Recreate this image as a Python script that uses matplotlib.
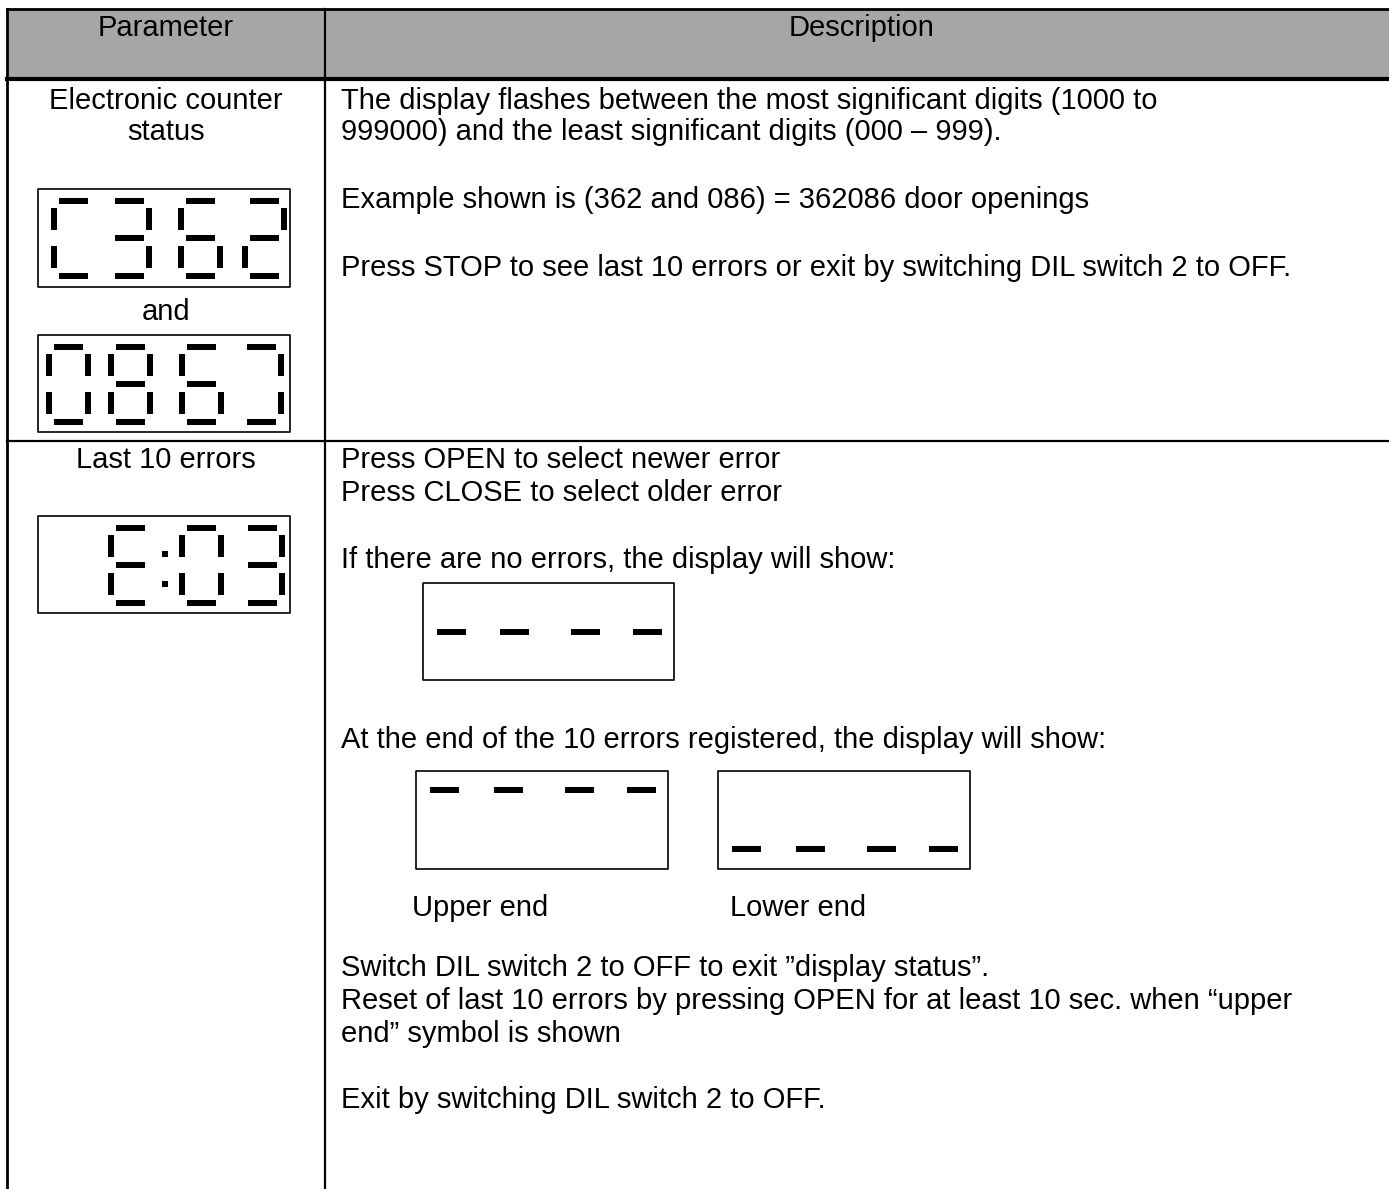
import matplotlib
matplotlib.use("Agg")
import matplotlib.pyplot as plt
from matplotlib.patches import Rectangle

plt.rcParams["font.family"] = ["Liberation Sans", "DejaVu Sans"]

W, H = 1389, 1189
FS = 21

# ---- content -------------------------------------------------------------
headers = ["Parameter", "Description"]
param_row1 = ["Electronic counter", "status"]
param_and = "and"
param_row2 = ["Last 10 errors"]

desc_row1 = [
    "The display flashes between the most significant digits (1000 to",
    "999000) and the least significant digits (000 \u2013 999).",
    "Example shown is (362 and 086) = 362086 door openings",
    "Press STOP to see last 10 errors or exit by switching DIL switch 2 to OFF.",
]
desc_row2 = [
    "Press OPEN to select newer error",
    "Press CLOSE to select older error",
    "If there are no errors, the display will show:",
    "At the end of the 10 errors registered, the display will show:",
    "Switch DIL switch 2 to OFF to exit \u201ddisplay status\u201d.",
    "Reset of last 10 errors by pressing OPEN for at least 10 sec. when \u201cupper",
    "end\u201d symbol is shown",
    "Exit by switching DIL switch 2 to OFF.",
]
end_labels = ["Upper end", "Lower end"]

# seven-segment contents (segments a-g lit per digit)
counter_hi = ["afed", "abgcd", "afgecd", "abged"]    # C362
counter_lo = ["abcdef", "abcdefg", "afgecd", "abcd"]  # 086 + end digit
error_disp = ["afged", "abcdef", "abgcd"]             # E:03
no_errors = ["g", "g", "g", "g"]
upper_end = ["a", "a", "a", "a"]
lower_end = ["d", "d", "d", "d"]

# ---- layout (pixels) -----------------------------------------------------
X_LEFT, X_DIV = 7, 325
Y_TOP, Y_HEAD, Y_ROW = 9, 79, 441
X_DESC = 341
X_PARAM = 166

desc_row1_y = [101, 132, 200, 268]
desc_row2_y = [460, 493, 560, 740, 968, 1001, 1034, 1100]
param_row1_y = [101, 132]

# segment geometry relative to digit origin (x) and box top (y)
SEG = {
    "a": (8, 9, 29, 6), "g": (8, 46, 29, 6), "d": (8, 84, 29, 6),
    "f": (0, 19, 6, 22), "e": (0, 57, 6, 22),
    "b": (39, 19, 6, 22), "c": (39, 57, 6, 22),
}

fig = plt.figure(figsize=(W / 100, H / 100), dpi=100)
ax = fig.add_axes([0, 0, 1, 1])
ax.set_xlim(0, W)
ax.set_ylim(H, 0)
ax.axis("off")


def draw_display(box, digit_x, digits, dy=0, dots=None):
    x0, y0, x1, y1 = box
    ax.add_patch(Rectangle((x0, y0), x1 - x0, y1 - y0, fill=False,
                           ec="black", lw=1.2, joinstyle="round"))
    for dx, segs in zip(digit_x, digits):
        for s in segs:
            sx, sy, sw, sh = SEG[s]
            ax.add_patch(Rectangle((dx + sx, y0 + sy + dy), sw, sh,
                                   fc="black", ec="none"))
    for px, py in (dots or []):
        ax.add_patch(Rectangle((px, py), 6, 6, fc="black", ec="none"))


# header band
ax.add_patch(Rectangle((X_LEFT, Y_TOP), W - X_LEFT, Y_HEAD - Y_TOP,
                       fc="#a6a6a6", ec="none"))
ax.plot([X_LEFT, W], [Y_TOP, Y_TOP], color="black", lw=2.0)
ax.plot([X_LEFT, W], [Y_HEAD, Y_HEAD], color="black", lw=3.0)
ax.plot([X_LEFT, W], [Y_ROW, Y_ROW], color="black", lw=1.6)
ax.plot([X_LEFT, X_LEFT], [Y_TOP, H], color="black", lw=2.0)
ax.plot([X_DIV, X_DIV], [Y_TOP, H], color="black", lw=1.6)

ax.text(X_PARAM, 28, headers[0], fontsize=FS, ha="center", va="center")
ax.text(862, 28, headers[1], fontsize=FS, ha="center", va="center")

for txt, y in zip(param_row1, param_row1_y):
    ax.text(X_PARAM, y, txt, fontsize=FS, ha="center", va="center")
ax.text(X_PARAM, 312, param_and, fontsize=FS, ha="center", va="center")
ax.text(X_PARAM, 460, param_row2[0], fontsize=FS, ha="center", va="center")

for txt, y in zip(desc_row1, desc_row1_y):
    ax.text(X_DESC, y, txt, fontsize=FS, ha="left", va="center")
for txt, y in zip(desc_row2, desc_row2_y):
    ax.text(X_DESC, y, txt, fontsize=FS, ha="left", va="center")

ax.text(412, 908, end_labels[0], fontsize=FS, ha="left", va="center")
ax.text(730, 908, end_labels[1], fontsize=FS, ha="left", va="center")

# displays
draw_display((38, 189, 290, 287), [51, 107, 178, 242], counter_hi)
draw_display((38, 335, 290, 432), [46, 108, 179, 239], counter_lo)
draw_display((38, 516, 290, 613), [108, 179, 240], error_disp,
             dots=[(162, 551), (162, 581)])
draw_display((423, 583, 674, 680), [429, 492, 563, 625], no_errors)
draw_display((416, 771, 668, 869), [422, 486, 557, 619], upper_end, dy=7)
draw_display((718, 771, 970, 869), [724, 788, 859, 921], lower_end, dy=-9)

fig.savefig("out.png", dpi=100)
